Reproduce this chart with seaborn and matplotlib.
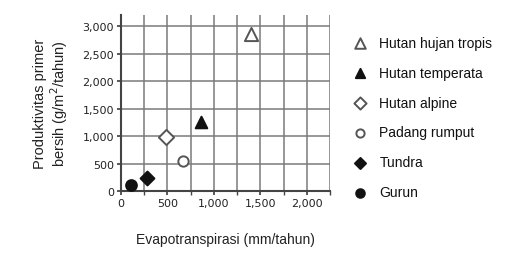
import matplotlib
matplotlib.use("Agg")
import matplotlib.pyplot as plt
import seaborn as sns
import pandas as pd
from matplotlib.ticker import MultipleLocator, FuncFormatter

categories = ["Hutan hujan tropis", "Hutan temperata", "Hutan alpine",
              "Padang rumput", "Tundra", "Gurun"]
evapo = [1400, 860, 490, 670, 285, 110]
npp = [2850, 1250, 980, 550, 235, 110]
markers = ["^", "^", "D", "o", "D", "o"]
filled = [False, True, False, False, True, True]
sizes = [90, 70, 60, 55, 50, 60]

sns.set_theme(style="white")
plt.rcParams['font.family'] = ['Liberation Sans', 'DejaVu Sans']

fig = plt.figure(figsize=(5.19, 2.55), dpi=100)
ax = fig.add_axes([0.233, 0.247, 0.403, 0.69])

df = pd.DataFrame({"cat": categories, "x": evapo, "y": npp})
for i, c in enumerate(categories):
    sub = df[df["cat"] == c]
    sns.scatterplot(data=sub, x="x", y="y", ax=ax, marker=markers[i], s=sizes[i],
                    color="#111111" if filled[i] else "white",
                    edgecolor="#111111" if filled[i] else "#555555",
                    linewidth=1.4, label=c, zorder=3)

ax.set_xlim(0, 2250)
ax.set_ylim(0, 3200)
ax.xaxis.set_major_locator(MultipleLocator(500))
ax.xaxis.set_minor_locator(MultipleLocator(250))
ax.yaxis.set_major_locator(MultipleLocator(500))
ax.grid(True, which="major", axis="both", color="#7a7a7a", linewidth=1.1)
ax.grid(True, which="minor", axis="x", color="#7a7a7a", linewidth=1.1)
fmt = FuncFormatter(lambda v, p: f"{int(v):,}")
ax.xaxis.set_major_formatter(fmt)
ax.yaxis.set_major_formatter(fmt)
for lab in ax.get_xticklabels() + ax.get_yticklabels():
    lab.set_fontfamily("DejaVu Sans")
    lab.set_fontsize(8)
    lab.set_color("#222222")
ax.tick_params(axis="both", which="both", length=3, color="#444444", direction="out", pad=2)
ax.tick_params(axis="x", which="both", bottom=True)
ax.tick_params(axis="y", left=True)
for s in ["top", "right"]:
    ax.spines[s].set_visible(False)
for s in ["left", "bottom"]:
    ax.spines[s].set_color("#444444")
    ax.spines[s].set_linewidth(1.5)

ax.set_xlabel("Evapotranspirasi (mm/tahun)", fontsize=10, color="#222222", labelpad=17)
ax.set_ylabel("Produktivitas primer\nbersih (g/m$^2$/tahun)", fontsize=10.5, color="#222222",
              labelpad=9, linespacing=1.05)

leg = ax.legend(loc="upper left", bbox_to_anchor=(1.05, 0.915), frameon=False,
                fontsize=10, labelspacing=1.15, handletextpad=0.4, borderaxespad=0,
                markerscale=0.8)
for t in leg.get_texts():
    t.set_color("#111111")

fig.savefig("out.png", dpi=100)
